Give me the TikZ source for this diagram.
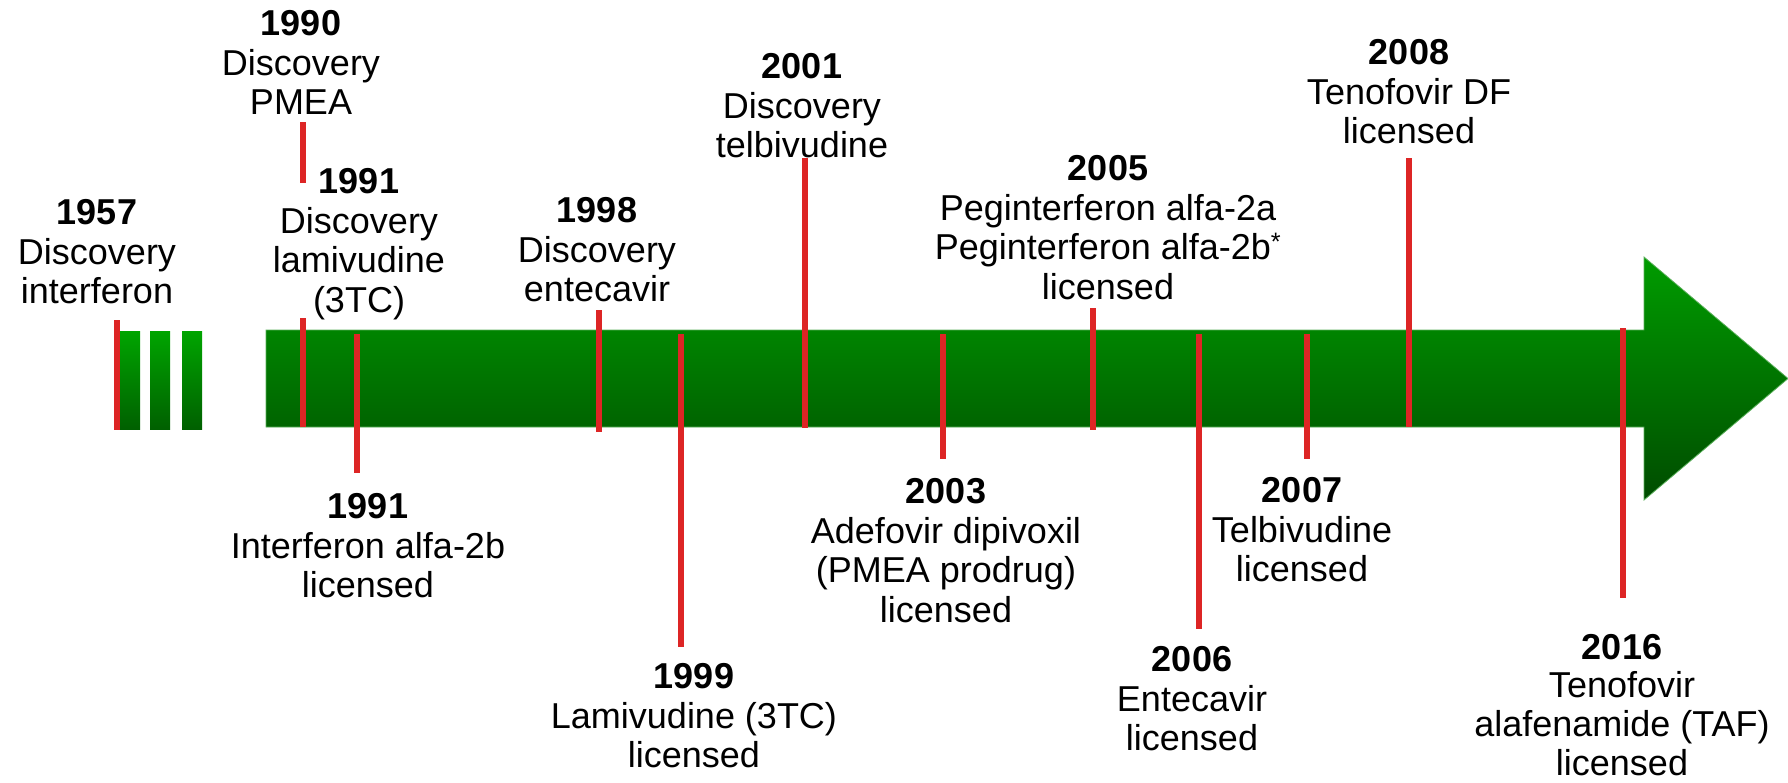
\documentclass[tikz,border=0pt]{standalone}
\usepackage{fontspec}
\setmainfont{Liberation Sans}
\definecolor{tickred}{RGB}{221,37,37}
\definecolor{gtop}{RGB}{0,156,0}
\definecolor{gbot}{RGB}{0,76,0}
\definecolor{stop}{RGB}{0,165,0}
\definecolor{sbot}{RGB}{0,96,0}
\definecolor{gedge}{RGB}{90,175,90}
\begin{document}
\begin{tikzpicture}[x=1pt,y=-1pt,
  lbl/.style={anchor=north, inner sep=0pt, align=center, font=\fontsize{36}{39.8}\selectfont},
  redtick/.style={draw=tickred, line width=6.5pt},
  stripe/.style={top color=stop, bottom color=sbot, draw=none}]
\useasboundingbox (0,0) rectangle (1788,782);
% left stripes
\shade[stripe] (119,331) rectangle (140,429);
\shade[stripe] (150,331) rectangle (170,429);
\shade[stripe] (182,331) rectangle (202,429);
% main arrow
\shade[top color=gtop, bottom color=gbot, draw=gedge, line width=0.8pt]
  (266,330) -- (1644,330) -- (1644,257) -- (1788,378.5) -- (1644,500) -- (1644,427) -- (266,427) -- cycle;
% tick coordinates
\coordinate (a1957) at (117,320); \coordinate (b1957) at (117,430);
\coordinate (a1990) at (303,122); \coordinate (b1990) at (303,183);
\coordinate (a1991) at (303,318); \coordinate (b1991) at (303,427);
\coordinate (a1991i) at (357,334); \coordinate (b1991i) at (357,473);
\coordinate (a1998) at (599,310); \coordinate (b1998) at (599,432);
\coordinate (a1999) at (681,334); \coordinate (b1999) at (681,647);
\coordinate (a2001) at (805,158); \coordinate (b2001) at (805,428);
\coordinate (a2003) at (943,334); \coordinate (b2003) at (943,459);
\coordinate (a2005) at (1093,308); \coordinate (b2005) at (1093,430);
\coordinate (a2006) at (1199,334); \coordinate (b2006) at (1199,629);
\coordinate (a2007) at (1307,334); \coordinate (b2007) at (1307,459);
\coordinate (a2008) at (1409,158); \coordinate (b2008) at (1409,427);
\coordinate (a2016) at (1623,328); \coordinate (b2016) at (1623,598);
\foreach \t in {1957,1990,1991,1991i,1998,1999,2001,2003,2005,2006,2007,2008,2016}
  \draw[redtick] (a\t) -- (b\t);
% labels
\node[lbl] (n1957) at (97,199) {\textbf{1957}\\Discovery\\interferon};
\node[lbl] (n1990) at (301,10) {\textbf{1990}\\Discovery\\PMEA};
\node[lbl] (n1991) at (359,168) {\textbf{1991}\\Discovery\\lamivudine\\(3TC)};
\node[lbl] (n1991i) at (368,493) {\textbf{1991}\\Interferon alfa-2b\\licensed};
\node[lbl] (n1998) at (597,197) {\textbf{1998}\\Discovery\\entecavir};
\node[lbl] (n1999) at (694,663) {\textbf{1999}\\Lamivudine (3TC)\\licensed};
\node[lbl] (n2001) at (802,53) {\textbf{2001}\\Discovery\\telbivudine};
\node[lbl] (n2003) at (946,478) {\textbf{2003}\\Adefovir dipivoxil\\(PMEA prodrug)\\licensed};
\node[lbl] (n2005) at (1108,155) {\textbf{2005}\\Peginterferon alfa-2a\\Peginterferon alfa-2b\textsuperscript{*}\\licensed};
\node[lbl] (n2006) at (1192,646) {\textbf{2006}\\Entecavir\\licensed};
\node[lbl] (n2007) at (1302,477) {\textbf{2007}\\Telbivudine\\licensed};
\node[lbl] (n2008) at (1409,39) {\textbf{2008}\\Tenofovir DF\\licensed};
\node[lbl, font=\fontsize{36}{38.6}\selectfont] (n2016) at (1622,634) {\textbf{2016}\\Tenofovir\\alafenamide (TAF)\\licensed};
\end{tikzpicture}
\end{document}
